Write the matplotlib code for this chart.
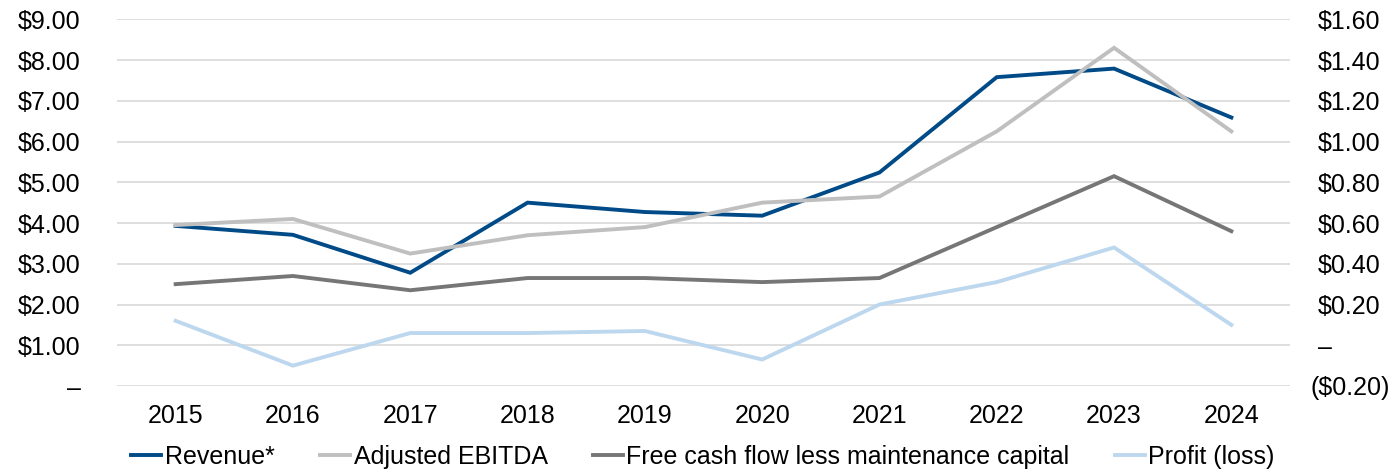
import matplotlib
matplotlib.use("Agg")
import matplotlib.pyplot as plt
from matplotlib.ticker import FixedLocator, FuncFormatter
from matplotlib.transforms import ScaledTranslation

plt.rcParams['font.family'] = ['Liberation Sans', 'DejaVu Sans']

years = ['2015', '2016', '2017', '2018', '2019', '2020', '2021', '2022', '2023', '2024']

# left axis
revenue = [3.93, 3.71, 2.78, 4.50, 4.27, 4.18, 5.24, 7.58, 7.79, 6.59]
# right axis
adj_ebitda = [0.59, 0.62, 0.45, 0.54, 0.58, 0.70, 0.73, 1.05, 1.46, 1.05]
fcf_less_maint = [0.30, 0.34, 0.27, 0.33, 0.33, 0.31, 0.33, 0.58, 0.83, 0.56]
profit = [0.12, -0.10, 0.06, 0.06, 0.07, -0.07, 0.20, 0.31, 0.48, 0.10]

left_ticks = [0, 1, 2, 3, 4, 5, 6, 7, 8, 9]
right_ticks = [-0.2, 0, 0.2, 0.4, 0.6, 0.8, 1.0, 1.2, 1.4, 1.6]

c_rev = '#004B87'
c_ebitda = '#BFBFBF'
c_fcf = '#767676'
c_profit = '#BDD7EE'
fs = 18
lw = 2.8


def fmt_left(v, pos):
    if abs(v) < 1e-9:
        return '\u2013'
    return f'${v:.2f}'


def fmt_right(v):
    if abs(v) < 1e-9:
        return '\u2013'
    if v < 0:
        return f'(${-v:.2f})'
    return f'${v:.2f}'


fig = plt.figure(figsize=(13.95, 4.71), dpi=100)
ax = fig.add_axes([117 / 1395, 1 - 386 / 471, (1290 - 117) / 1395, (386 - 19.3) / 471])
ax2 = ax.twinx()

x = list(range(len(years)))
l1, = ax.plot(x, revenue, color=c_rev, lw=lw, label='Revenue*', solid_joinstyle='miter')
l2, = ax2.plot(x, adj_ebitda, color=c_ebitda, lw=lw, label='Adjusted EBITDA', solid_joinstyle='miter')
l3, = ax2.plot(x, fcf_less_maint, color=c_fcf, lw=lw,
               label='Free cash flow less maintenance capital', solid_joinstyle='miter')
l4, = ax2.plot(x, profit, color=c_profit, lw=lw, label='Profit (loss)', solid_joinstyle='miter')

ax.set_xlim(-0.5, len(years) - 0.5)
ax.set_ylim(0, 9)
ax2.set_ylim(-0.2, 1.6)

ax.set_xticks(x)
ax.set_xticklabels(years, fontsize=fs)
ax.yaxis.set_major_locator(FixedLocator(left_ticks))
ax.yaxis.set_major_formatter(FuncFormatter(fmt_left))
ax2.set_yticks(right_ticks)
ax2.set_yticklabels([fmt_right(v) for v in right_ticks])

ax.tick_params(axis='y', length=0, pad=26, labelsize=fs)
ax.tick_params(axis='x', length=0, pad=13, labelsize=fs)
ax2.tick_params(axis='y', length=0, pad=20, labelsize=fs)

# accounting-style: the opening paren hangs to the left
for v, lab in zip(right_ticks, ax2.get_yticklabels()):
    if v < 0:
        lab.set_transform(lab.get_transform() + ScaledTranslation(-0.07, 0, fig.dpi_scale_trans))

ax.grid(axis='y', color='#D9D9D9', lw=1.2)
ax.set_axisbelow(True)
for a in (ax, ax2):
    for s in a.spines.values():
        s.set_visible(False)

fig.legend(handles=[l1, l2, l3, l4], loc='center', bbox_to_anchor=(703 / 1395, 1 - 457 / 471),
           ncol=4, frameon=False, fontsize=fs, handlelength=1.2, handletextpad=0.15,
           columnspacing=1.8, borderaxespad=0, borderpad=0)

fig.savefig('out.png', dpi=100)
